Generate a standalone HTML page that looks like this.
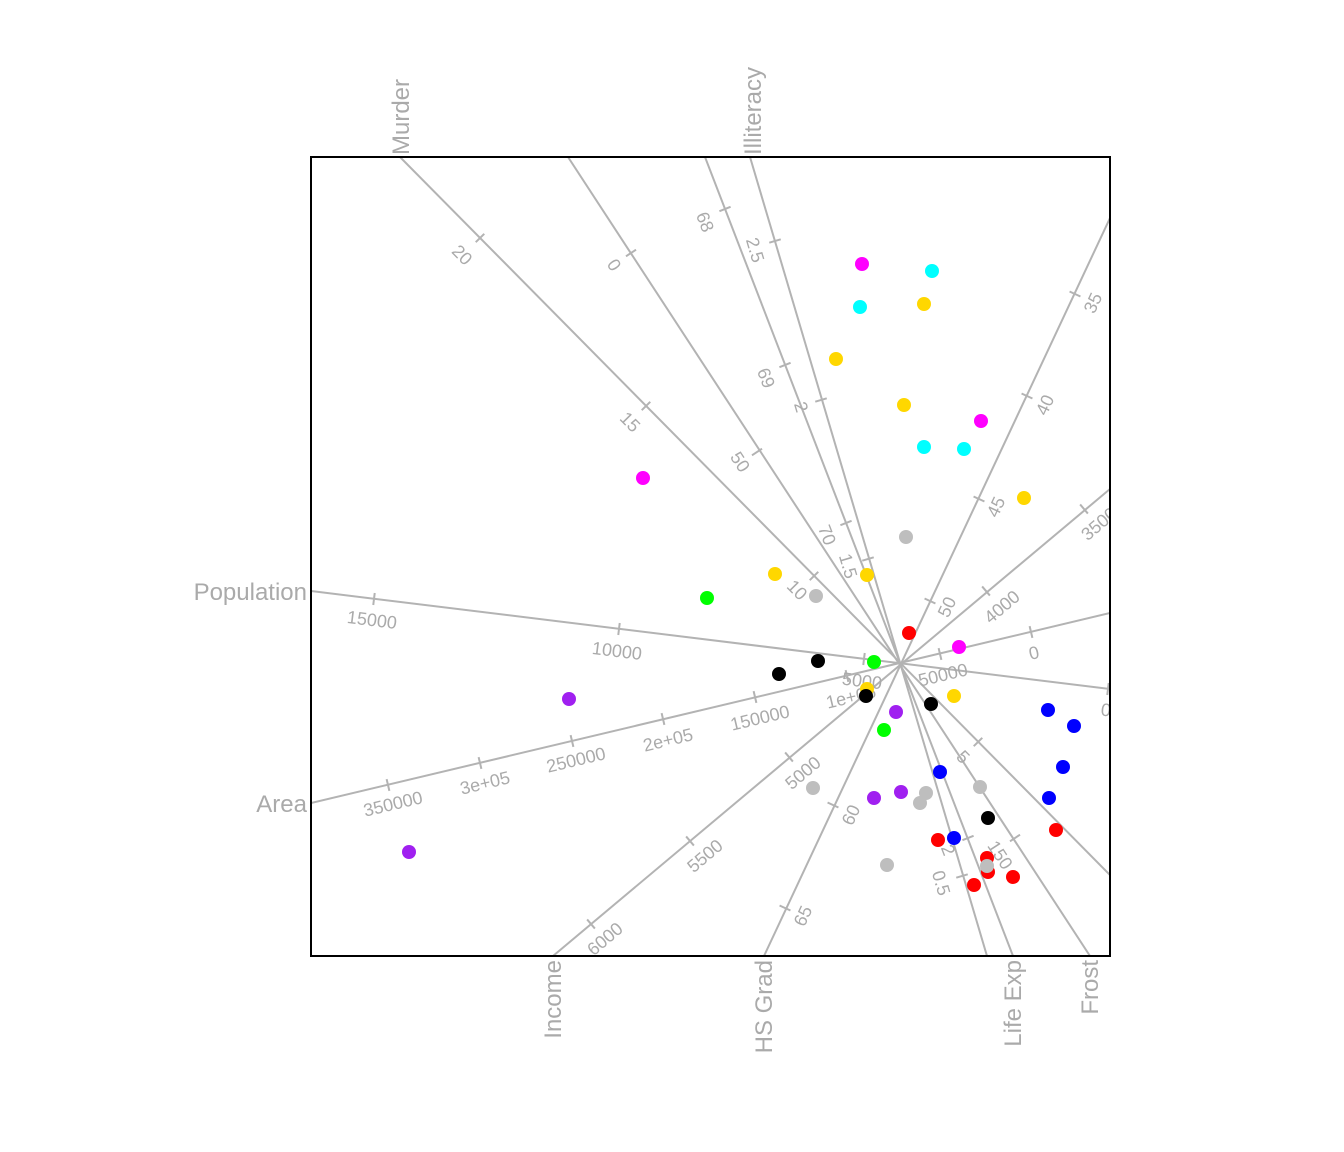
<!DOCTYPE html>
<html><head><meta charset="utf-8"><style>html,body{margin:0;padding:0;background:#fff}svg{display:block}</style></head>
<body>
<svg width="1344" height="1152" xmlns="http://www.w3.org/2000/svg" font-family="Liberation Sans, sans-serif">
<defs><clipPath id="c"><rect x="311" y="157" width="799" height="799"/></clipPath></defs>
<g clip-path="url(#c)" stroke="#b3b3b3" stroke-width="2" fill="none">
<line x1="400" y1="157" x2="1110" y2="875"/>
<line x1="568" y1="157" x2="1090" y2="956"/>
<line x1="705" y1="157" x2="1013" y2="956"/>
<line x1="750" y1="157" x2="987" y2="956"/>
<line x1="311" y1="591" x2="1110" y2="689"/>
<line x1="311" y1="803" x2="1110" y2="613"/>
<line x1="553" y1="956" x2="1110" y2="489"/>
<line x1="764" y1="956" x2="1110" y2="218"/>
</g>
<g stroke="#b3b3b3" stroke-width="2">
<g transform="translate(480,238) rotate(45.3)"><line x1="0" y1="-6" x2="0" y2="6"/></g>
<g transform="translate(646,406) rotate(45.3)"><line x1="0" y1="-6" x2="0" y2="6"/></g>
<g transform="translate(814,576) rotate(45.3)"><line x1="0" y1="-6" x2="0" y2="6"/></g>
<g transform="translate(978,742) rotate(45.3)"><line x1="0" y1="-6" x2="0" y2="6"/></g>
<g transform="translate(631,253) rotate(56.7)"><line x1="0" y1="-6" x2="0" y2="6"/></g>
<g transform="translate(757,452) rotate(56.7)"><line x1="0" y1="-6" x2="0" y2="6"/></g>
<g transform="translate(1015,838) rotate(56.7)"><line x1="0" y1="-6" x2="0" y2="6"/></g>
<g transform="translate(725,209) rotate(68.9)"><line x1="0" y1="-6" x2="0" y2="6"/></g>
<g transform="translate(785,365) rotate(68.9)"><line x1="0" y1="-6" x2="0" y2="6"/></g>
<g transform="translate(846,523) rotate(68.9)"><line x1="0" y1="-6" x2="0" y2="6"/></g>
<g transform="translate(968,838) rotate(68.9)"><line x1="0" y1="-6" x2="0" y2="6"/></g>
<g transform="translate(775,241) rotate(73.5)"><line x1="0" y1="-6" x2="0" y2="6"/></g>
<g transform="translate(821,400) rotate(73.5)"><line x1="0" y1="-6" x2="0" y2="6"/></g>
<g transform="translate(868,559) rotate(73.5)"><line x1="0" y1="-6" x2="0" y2="6"/></g>
<g transform="translate(962,876) rotate(73.5)"><line x1="0" y1="-6" x2="0" y2="6"/></g>
<g transform="translate(374,599) rotate(7)"><line x1="0" y1="-6" x2="0" y2="6"/></g>
<g transform="translate(619,629) rotate(7)"><line x1="0" y1="-6" x2="0" y2="6"/></g>
<g transform="translate(864,659) rotate(7)"><line x1="0" y1="-6" x2="0" y2="6"/></g>
<g transform="translate(1108,689) rotate(7)"><line x1="0" y1="-6" x2="0" y2="6"/></g>
<g transform="translate(388,785) rotate(-13.4)"><line x1="0" y1="-6" x2="0" y2="6"/></g>
<g transform="translate(480,763) rotate(-13.4)"><line x1="0" y1="-6" x2="0" y2="6"/></g>
<g transform="translate(572,741) rotate(-13.4)"><line x1="0" y1="-6" x2="0" y2="6"/></g>
<g transform="translate(663,719) rotate(-13.4)"><line x1="0" y1="-6" x2="0" y2="6"/></g>
<g transform="translate(755,697) rotate(-13.4)"><line x1="0" y1="-6" x2="0" y2="6"/></g>
<g transform="translate(847,676) rotate(-13.4)"><line x1="0" y1="-6" x2="0" y2="6"/></g>
<g transform="translate(940,654) rotate(-13.4)"><line x1="0" y1="-6" x2="0" y2="6"/></g>
<g transform="translate(1031,632) rotate(-13.4)"><line x1="0" y1="-6" x2="0" y2="6"/></g>
<g transform="translate(591,924) rotate(-40.2)"><line x1="0" y1="-6" x2="0" y2="6"/></g>
<g transform="translate(690,841) rotate(-40.2)"><line x1="0" y1="-6" x2="0" y2="6"/></g>
<g transform="translate(789,757) rotate(-40.2)"><line x1="0" y1="-6" x2="0" y2="6"/></g>
<g transform="translate(986,591) rotate(-40.2)"><line x1="0" y1="-6" x2="0" y2="6"/></g>
<g transform="translate(1084,509) rotate(-40.2)"><line x1="0" y1="-6" x2="0" y2="6"/></g>
<g transform="translate(785,908) rotate(-65.1)"><line x1="0" y1="-6" x2="0" y2="6"/></g>
<g transform="translate(833,805) rotate(-65.1)"><line x1="0" y1="-6" x2="0" y2="6"/></g>
<g transform="translate(930,601) rotate(-65.1)"><line x1="0" y1="-6" x2="0" y2="6"/></g>
<g transform="translate(979,499) rotate(-65.1)"><line x1="0" y1="-6" x2="0" y2="6"/></g>
<g transform="translate(1027,396) rotate(-65.1)"><line x1="0" y1="-6" x2="0" y2="6"/></g>
<g transform="translate(1075,294) rotate(-65.1)"><line x1="0" y1="-6" x2="0" y2="6"/></g>
</g>
<g clip-path="url(#c)" fill="#aaaaaa" font-size="18" text-anchor="middle" dominant-baseline="central">
<text transform="translate(462,255) rotate(45.3)">20</text>
<text transform="translate(630,422) rotate(45.3)">15</text>
<text transform="translate(797,590) rotate(45.3)">10</text>
<text transform="translate(963,757) rotate(45.3)">5</text>
<text transform="translate(614,265) rotate(56.7)">0</text>
<text transform="translate(740,462) rotate(56.7)">50</text>
<text transform="translate(1000,855) rotate(56.7)">150</text>
<text transform="translate(705,222) rotate(68.9)">68</text>
<text transform="translate(766,378) rotate(68.9)">69</text>
<text transform="translate(827,535) rotate(68.9)">70</text>
<text transform="translate(948,850) rotate(68.9)">2</text>
<text transform="translate(755,250) rotate(73.5)">2.5</text>
<text transform="translate(801,407) rotate(73.5)">2</text>
<text transform="translate(848,566) rotate(73.5)">1.5</text>
<text transform="translate(941,883) rotate(73.5)">0.5</text>
<text transform="translate(372,620) rotate(7)">15000</text>
<text transform="translate(617,651) rotate(7)">10000</text>
<text transform="translate(862,681) rotate(7)">5000</text>
<text transform="translate(1106,710) rotate(7)">0</text>
<text transform="translate(393,804) rotate(-13.4)">350000</text>
<text transform="translate(485,783) rotate(-13.4)">3e+05</text>
<text transform="translate(576,760) rotate(-13.4)">250000</text>
<text transform="translate(668,740) rotate(-13.4)">2e+05</text>
<text transform="translate(760,718) rotate(-13.4)">150000</text>
<text transform="translate(851,697) rotate(-13.4)">1e+05</text>
<text transform="translate(943,675) rotate(-13.4)">50000</text>
<text transform="translate(1034,653) rotate(-13.4)">0</text>
<text transform="translate(605,939) rotate(-40.2)">6000</text>
<text transform="translate(705,856) rotate(-40.2)">5500</text>
<text transform="translate(803,773) rotate(-40.2)">5000</text>
<text transform="translate(1002,607) rotate(-40.2)">4000</text>
<text transform="translate(1099,524) rotate(-40.2)">3500</text>
<text transform="translate(803,916) rotate(-65.1)">65</text>
<text transform="translate(851,815) rotate(-65.1)">60</text>
<text transform="translate(947,607) rotate(-65.1)">50</text>
<text transform="translate(996,507) rotate(-65.1)">45</text>
<text transform="translate(1045,405) rotate(-65.1)">40</text>
<text transform="translate(1093,303) rotate(-65.1)">35</text>
</g>
<rect x="311" y="157" width="799" height="799" fill="none" stroke="#000" stroke-width="2"/>
<g fill="#aaaaaa" font-size="24">
<text transform="translate(409,155) rotate(-90)">Murder</text>
<text transform="translate(761,155) rotate(-90)">Illiteracy</text>
<text x="307" y="600" text-anchor="end">Population</text>
<text x="307" y="812" text-anchor="end">Area</text>
<text transform="translate(561,960) rotate(-90)" text-anchor="end">Income</text>
<text transform="translate(772,960) rotate(-90)" text-anchor="end">HS Grad</text>
<text transform="translate(1021,960) rotate(-90)" text-anchor="end">Life Exp</text>
<text transform="translate(1098,960) rotate(-90)" text-anchor="end">Frost</text>
</g>
<g>
<g fill="#ff00ff"><circle cx="862" cy="264" r="7"/><circle cx="643" cy="478" r="7"/><circle cx="981" cy="421" r="7"/><circle cx="959" cy="647" r="7"/></g>
<g fill="#00ffff"><circle cx="932" cy="271" r="7"/><circle cx="860" cy="307" r="7"/><circle cx="924" cy="447" r="7"/><circle cx="964" cy="449" r="7"/></g>
<g fill="#ffd700"><circle cx="924" cy="304" r="7"/><circle cx="836" cy="359" r="7"/><circle cx="904" cy="405" r="7"/><circle cx="1024" cy="498" r="7"/><circle cx="775" cy="574" r="7"/><circle cx="867" cy="575" r="7"/><circle cx="954" cy="696" r="7"/><circle cx="867" cy="689" r="7"/></g>
<g fill="#bebebe"><circle cx="906" cy="537" r="7"/><circle cx="816" cy="596" r="7"/><circle cx="813" cy="788" r="7"/><circle cx="926" cy="793" r="7"/><circle cx="920" cy="803" r="7"/><circle cx="980" cy="787" r="7"/><circle cx="887" cy="865" r="7"/></g>
<g fill="#00ff00"><circle cx="707" cy="598" r="7"/><circle cx="874" cy="662" r="7"/><circle cx="884" cy="730" r="7"/></g>
<g fill="#ff0000"><circle cx="909" cy="633" r="7"/><circle cx="1056" cy="830" r="7"/><circle cx="938" cy="840" r="7"/><circle cx="987" cy="858" r="7"/><circle cx="988" cy="872" r="7"/><circle cx="1013" cy="877" r="7"/><circle cx="974" cy="885" r="7"/></g>
<circle cx="987" cy="866" r="7" fill="#bebebe"/>
<g fill="#000"><circle cx="818" cy="661" r="7"/><circle cx="779" cy="674" r="7"/><circle cx="866" cy="696" r="7"/><circle cx="931" cy="704" r="7"/><circle cx="988" cy="818" r="7"/></g>
<g fill="#a020f0"><circle cx="569" cy="699" r="7"/><circle cx="409" cy="852" r="7"/><circle cx="896" cy="712" r="7"/><circle cx="874" cy="798" r="7"/><circle cx="901" cy="792" r="7"/></g>
<g fill="#0000ff"><circle cx="1048" cy="710" r="7"/><circle cx="1074" cy="726" r="7"/><circle cx="1063" cy="767" r="7"/><circle cx="1049" cy="798" r="7"/><circle cx="940" cy="772" r="7"/><circle cx="954" cy="838" r="7"/></g>
</g>
</svg>
</body></html>
